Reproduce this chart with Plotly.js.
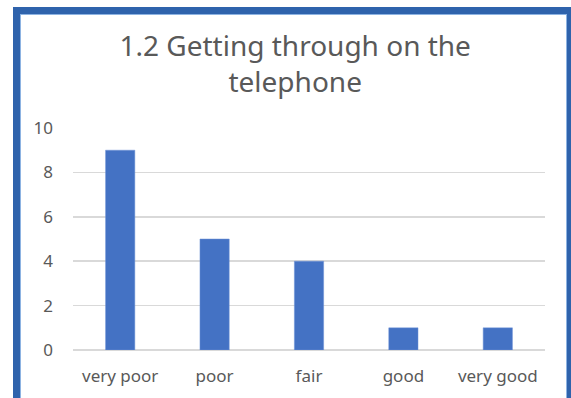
<!DOCTYPE html>
<html>
<head>
<meta charset="utf-8">
<script src="https://cdn.plot.ly/plotly-3.0.1.min.js"></script>
<style>
html,body{margin:0;padding:0;background:#fff;width:571px;height:398px;overflow:hidden;}
#chart{position:absolute;left:0;top:0;width:571px;height:398px;}
#frame{position:absolute;left:13px;top:7px;width:547px;height:420px;border:7px solid #2F63AC;box-shadow:inset 0 0 0 1px #8DB3E2;pointer-events:none;}
</style>
</head>
<body>
<div id="chart"></div>
<div id="frame"></div>
<script>
const categories = ["very poor", "poor", "fair", "good", "very good"];
const values = [9, 5, 4, 1, 1];
const titleText = "1.2 Getting through on the<br>telephone";

const fontFam = "Noto Sans, Open Sans, sans-serif";
Plotly.newPlot("chart", [{
  type: "bar",
  x: categories,
  y: values,
  marker: {color: "#4472C4", line: {color: "#6E93D6", width: 0.5}},
  hoverinfo: "skip"
}], {
  width: 571, height: 398,
  margin: {l: 73, r: 26, t: 128, b: 48},
  paper_bgcolor: "#fff", plot_bgcolor: "#fff",
  bargap: 0.69,
  showlegend: false,
  title: {text: titleText, x: 0.517, xanchor: "center", y: 0.86, yanchor: "middle",
          font: {family: fontFam, size: 28, color: "#595959"}},
  xaxis: {type: "category", showgrid: false, zeroline: false, showline: false, ticks: "",
          tickfont: {family: fontFam, size: 17, color: "#595959"}, ticklabelstandoff: 14},
  yaxis: {range: [0, 10], dtick: 2, showgrid: true, gridcolor: "#D9D9D9", gridwidth: 1.5,
          zeroline: true, zerolinecolor: "#D9D9D9", zerolinewidth: 1.5, showline: false, ticks: "",
          tickfont: {family: fontFam, size: 17, color: "#595959"}, ticklabelstandoff: 19}
}, {displayModeBar: false, staticPlot: true});
</script>
</body>
</html>
